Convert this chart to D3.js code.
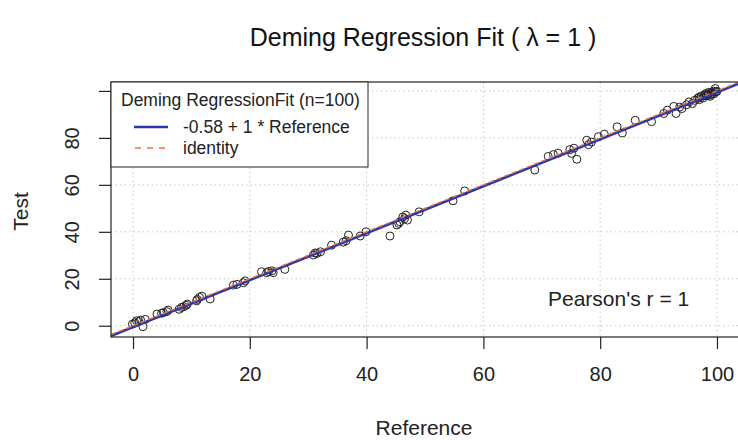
<!DOCTYPE html>
<html>
<head>
<meta charset="utf-8">
<script src="https://cdn.jsdelivr.net/npm/d3@7"></script>
<style>
  body { margin: 0; background: #fff; }
  svg { display: block; font-family: "Liberation Sans", Arial, sans-serif; }
</style>
</head>
<body>
<div id="vis"></div>
<script>
// values
const refX = [-0.1, 0.6, 1.3, 1.7, 2.1, 4.1, 4.9, 5.8, 6.0, 7.9,
  8.3, 9.1, 9.3, 10.9, 11.4, 11.8, 13.2, 17.2, 18.9, 19.2,
  22.0, 22.9, 23.8, 24.0, 26.0, 30.9, 31.5, 32.1, 34.0, 36.0,
  36.9, 38.9, 39.9, 44.0, 45.2, 45.7, 46.7, 47.0, 49.0, 54.8,
  56.8, 68.8, 71.1, 72.8, 74.8, 75.1, 76.0, 77.7, 78.0, 79.7,
  80.7, 82.9, 83.8, 86.0, 88.8, 90.9, 92.6, 93.0, 94.0, 94.8,
  95.8, 96.7, 97.3, 98.1, 98.8, 99.4, 99.7, 0.3, 1.0, 5.2,
  8.7, 11.0, 23.2, 31.2, 36.5, 46.2, 46.5, 72.0, 75.5, 78.5,
  91.5, 93.6, 95.2, 96.2, 96.9, 97.6, 97.9, 98.3, 98.5, 98.6,
  99.0, 99.2, 99.5, 99.8, 100.0, 97.0, 98.0, 99.1, 17.8, 45.5];
const testY = [0.7, 2.1, 2.4, -0.4, 2.7, 5.0, 5.3, 6.0, 6.7, 7.0,
  7.8, 8.7, 9.2, 10.6, 12.1, 12.6, 11.4, 17.3, 18.3, 19.1,
  23.0, 22.6, 23.4, 22.6, 24.0, 30.1, 30.8, 31.5, 34.3, 35.6,
  38.6, 38.2, 40.0, 38.2, 42.9, 44.3, 47.1, 45.0, 48.5, 53.2,
  57.4, 66.3, 72.1, 73.5, 75.0, 73.4, 70.9, 79.0, 77.1, 80.5,
  81.6, 84.7, 82.1, 87.5, 86.9, 90.4, 93.4, 90.4, 92.5, 94.1,
  94.6, 96.8, 97.8, 98.9, 97.7, 99.9, 101.0, 1.2, 1.8, 5.6,
  8.1, 11.2, 23.1, 31.0, 36.2, 46.3, 45.6, 72.9, 75.6, 78.2,
  91.8, 93.1, 95.3, 96.0, 97.3, 97.0, 98.3, 97.9, 98.6, 99.4,
  98.4, 99.0, 98.8, 99.6, 99.8, 96.3, 98.0, 99.5, 17.6, 43.6];

const xTicks = [0, 20, 40, 60, 80, 100];
const yTicks = [0, 20, 40, 60, 80, 100];
const yTickLabels = ['0', '20', '40', '60', '80', ''];

const fitIntercept = -0.58;
const fitSlope = 1;
const legendTitle = 'Deming RegressionFit (n=100)';
const legendItems = ['-0.58 + 1 * Reference', 'identity'];

const width = 738;
const height = 440;
const plot = { left: 111, top: 82, right: 745, bottom: 337 };
const fitColor = '#2838aa';
const idColor = '#f2703c';

const x = d3.scaleLinear().domain([-3.77, 104.8]).range([plot.left, plot.right]);
const y = d3.scaleLinear().domain([-4.8, 103.8]).range([plot.bottom, plot.top]);

const svg = d3.select('#vis').append('svg')
  .attr('width', width)
  .attr('height', height);

svg.append('defs').append('clipPath').attr('id', 'clip')
  .append('rect')
  .attr('x', plot.left).attr('y', plot.top)
  .attr('width', plot.right - plot.left).attr('height', plot.bottom - plot.top);

// grid
const grid = svg.append('g').attr('clip-path', 'url(#clip)')
  .attr('stroke', '#c8c8c8').attr('stroke-width', 1).attr('stroke-dasharray', '1.5,3');
grid.selectAll('.vg').data(xTicks).enter().append('line')
  .attr('x1', d => x(d)).attr('x2', d => x(d))
  .attr('y1', plot.top).attr('y2', plot.bottom);
grid.selectAll('.hg').data(yTicks).enter().append('line')
  .attr('x1', plot.left).attr('x2', plot.right)
  .attr('y1', d => y(d)).attr('y2', d => y(d));

// points
const pts = d3.range(refX.length).map(i => ({ x: refX[i], y: testY[i] }));
svg.append('g').attr('clip-path', 'url(#clip)')
  .selectAll('circle').data(pts).enter().append('circle')
  .attr('cx', d => x(d.x)).attr('cy', d => y(d.y))
  .attr('r', 4)
  .attr('fill', 'none')
  .attr('stroke', '#222')
  .attr('stroke-width', 1);

// lines
const xd = x.domain();
const lines = svg.append('g').attr('clip-path', 'url(#clip)');
lines.append('line')
  .attr('x1', x(xd[0])).attr('y1', y(fitIntercept + fitSlope * xd[0]))
  .attr('x2', x(xd[1])).attr('y2', y(fitIntercept + fitSlope * xd[1]))
  .attr('stroke', fitColor).attr('stroke-width', 2.6);
lines.append('line')
  .attr('x1', x(xd[0])).attr('y1', y(xd[0]))
  .attr('x2', x(xd[1])).attr('y2', y(xd[1]))
  .attr('stroke', idColor).attr('stroke-width', 1.4)
  .attr('stroke-dasharray', '5,3');

// frame
svg.append('rect')
  .attr('x', plot.left).attr('y', plot.top)
  .attr('width', plot.right - plot.left).attr('height', plot.bottom - plot.top)
  .attr('fill', 'none').attr('stroke', '#222').attr('stroke-width', 1.2);

// axes
const xAxis = svg.append('g')
  .attr('transform', `translate(0,${plot.bottom})`)
  .call(d3.axisBottom(x).tickValues(xTicks).tickSize(12).tickPadding(18));
const yAxis = svg.append('g')
  .attr('transform', `translate(${plot.left},0)`)
  .call(d3.axisLeft(y).tickValues(yTicks).tickSize(12)
    .tickFormat((d, i) => yTickLabels[i]));
[xAxis, yAxis].forEach(a => {
  a.select('.domain').remove();
  a.selectAll('line').attr('stroke', '#222').attr('stroke-width', 1.2);
  a.selectAll('text').attr('font-size', 20).attr('fill', '#222')
    .attr('font-family', '"Liberation Sans", Arial, sans-serif');
});
yAxis.selectAll('text')
  .attr('text-anchor', 'middle')
  .attr('x', null)
  .attr('y', 0)
  .attr('dy', '0.35em')
  .attr('transform', 'translate(-39,0) rotate(-90)');

// titles
svg.append('text')
  .attr('x', 423).attr('y', 46)
  .attr('text-anchor', 'middle')
  .attr('font-size', 25).attr('fill', '#111')
  .text('Deming Regression Fit ( λ = 1 )');
svg.append('text')
  .attr('x', 424).attr('y', 435)
  .attr('text-anchor', 'middle')
  .attr('font-size', 21).attr('fill', '#222')
  .text('Reference');
svg.append('text')
  .attr('transform', `translate(28,${(plot.top + plot.bottom) / 2 + 2}) rotate(-90)`)
  .attr('text-anchor', 'middle')
  .attr('font-size', 21).attr('fill', '#222')
  .text('Test');

// legend
const legend = svg.append('g');
legend.append('rect')
  .attr('x', plot.left).attr('y', plot.top)
  .attr('width', 257).attr('height', 85)
  .attr('fill', '#fff').attr('stroke', '#222').attr('stroke-width', 1);
legend.append('text')
  .attr('x', 121).attr('y', 106)
  .attr('font-size', 17.5).attr('fill', '#222')
  .text(legendTitle);
legend.append('line')
  .attr('x1', 134).attr('x2', 168).attr('y1', 127).attr('y2', 127)
  .attr('stroke', fitColor).attr('stroke-width', 2.6);
legend.append('line')
  .attr('x1', 135).attr('x2', 166).attr('y1', 148).attr('y2', 148)
  .attr('stroke', idColor).attr('stroke-width', 1.4)
  .attr('stroke-dasharray', '6,6');
legend.selectAll('.li').data(legendItems).enter().append('text')
  .attr('x', 183).attr('y', (d, i) => 133 + i * 21)
  .attr('font-size', 17.5).attr('fill', '#222')
  .text(d => d);

svg.append('text')
  .attr('x', 548).attr('y', 306)
  .attr('font-size', 21).attr('fill', '#222')
  .text("Pearson's r = 1");
</script>
</body>
</html>
